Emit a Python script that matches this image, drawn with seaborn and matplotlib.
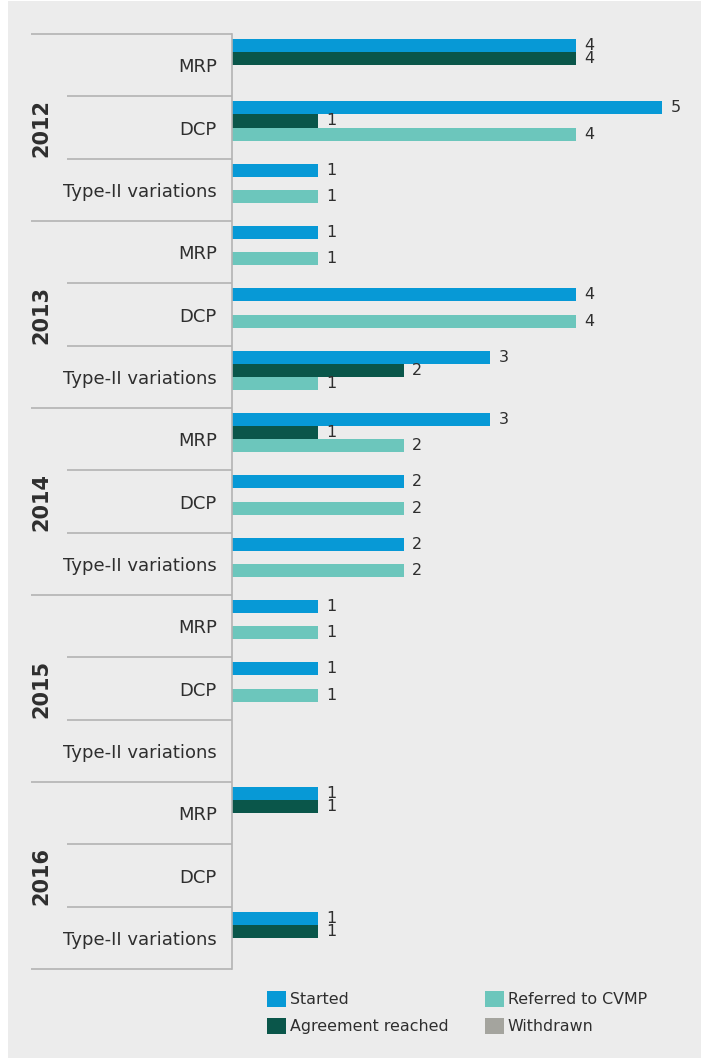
import matplotlib
matplotlib.use("Agg")
import matplotlib.pyplot as plt
from matplotlib.patches import Rectangle
import matplotlib.transforms as mtransforms
import seaborn as sns
import pandas as pd

# ---- data ----
years = ["2012", "2013", "2014", "2015", "2016"]
procedures = ["MRP", "DCP", "Type-II variations"]
statuses = ["Started", "Agreement reached", "Referred to CVMP", "Withdrawn"]
# rows: year x procedure (in order), values per status
started   = [4, 5, 1,  1, 4, 3,  3, 2, 2,  1, 1, 0,  1, 0, 1]
agreement = [4, 1, 0,  0, 0, 2,  1, 0, 0,  0, 0, 0,  1, 0, 1]
referred  = [0, 4, 1,  1, 4, 1,  2, 2, 2,  1, 1, 0,  0, 0, 0]
withdrawn = [0, 0, 0,  0, 0, 0,  0, 0, 0,  0, 0, 0,  0, 0, 0]
colors = ["#0799d6", "#0a564a", "#6cc6bc", "#a4a49e"]

row_keys = [f"{y}|{p}" for y in years for p in procedures]
series = [started, agreement, referred, withdrawn]
records = []
for s, vals in zip(statuses, series):
    for k, v in zip(row_keys, vals):
        records.append({"row": k, "status": s, "value": v})
df = pd.DataFrame(records)

# ---- figure ----
W, H = 707, 1059
fig = plt.figure(figsize=(W / 100, H / 100), dpi=100)
fig.patch.set_facecolor("white")
fig.add_artist(Rectangle((8 / W, 1 / H), (701 - 8) / W, (1058 - 1) / H,
                         transform=fig.transFigure, facecolor="#ececec",
                         edgecolor="none", zorder=-10))

ax_left, ax_right = 232, 705
ax_top, ax_bottom = 34, 969
ax = fig.add_axes([ax_left / W, 1 - ax_bottom / H, (ax_right - ax_left) / W,
                   (ax_bottom - ax_top) / H])
ax.set_facecolor("none")

sns.barplot(data=df, y="row", x="value", hue="status", order=row_keys,
            hue_order=statuses, palette=colors, orient="h", width=0.84,
            dodge=True, linewidth=0, saturation=1, ax=ax, legend=True)

ax.set_xlim(0, 5.5)
ax.set_ylim(14.5, -0.5)
txt_color = "#2e2e2e"
for cont, vals in zip(ax.containers, series):
    labels = [str(v) if v > 0 else "" for v in vals]
    ax.bar_label(cont, labels=labels, padding=6, fontsize=11.5, color=txt_color)

ax.set_yticks(range(len(row_keys)))
ax.set_yticklabels([k.split("|")[1] for k in row_keys], fontsize=13, color=txt_color)
ax.tick_params(axis="y", length=0, pad=11)
ax.xaxis.set_visible(False)
ax.set_xlabel("")
ax.set_ylabel("")
for sp in ["top", "right", "bottom"]:
    ax.spines[sp].set_visible(False)
ax.spines["left"].set_color("#b3b3b3")
ax.spines["left"].set_linewidth(1.2)

# group separator lines and year labels
trans = mtransforms.blended_transform_factory(ax.transAxes, ax.transData)
axw = ax_right - ax_left
x_year = (31 - ax_left) / axw
x_sub = (67 - ax_left) / axw
for i in range(len(row_keys) + 1):
    yb = i - 0.5
    x0 = x_year if i % 3 == 0 else x_sub
    ax.plot([x0, 0], [yb, yb], transform=trans, color="#b3b3b3", lw=1.2,
            clip_on=False, solid_capstyle="butt")
for j, y in enumerate(years):
    ax.text((41 - ax_left) / axw, j * 3 + 1, y, transform=trans, rotation=90,
            ha="center", va="center", fontsize=15, fontweight="bold",
            color=txt_color)

# legend
handles, labels = ax.get_legend_handles_labels()
ax.get_legend().remove()
fig.legend(handles, labels, loc="upper left", ncol=2,
           bbox_to_anchor=(267 / W, 1 - 991 / H), frameon=False,
           fontsize=11.4, handlelength=1.2, handleheight=1.2,
           handletextpad=0.25, columnspacing=2.3, labelspacing=0.65,
           borderpad=0, borderaxespad=0, labelcolor=txt_color)

fig.savefig("out.png", dpi=100, facecolor=fig.get_facecolor())
